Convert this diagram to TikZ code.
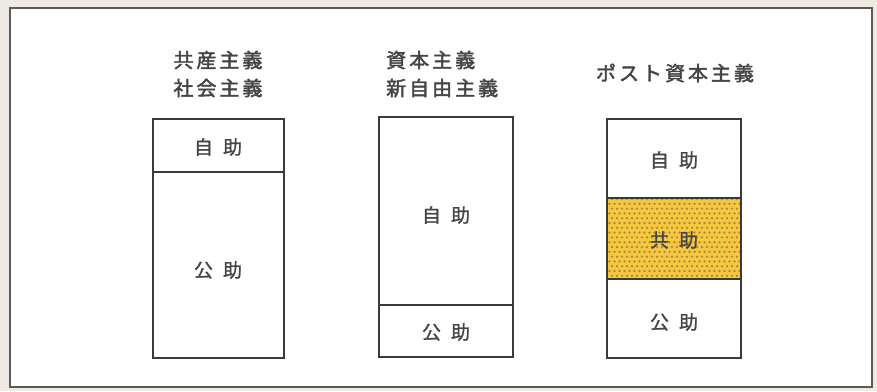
\documentclass[tikz,border=0pt]{standalone}
\usepackage{fontspec}
\newfontfamily\jpm[FakeBold=1.2]{Noto Sans CJK JP}
\newfontfamily\jpb[FakeBold=2]{Noto Sans CJK JP}
\definecolor{bgbeige}{HTML}{EEEAE3}
\definecolor{framec}{HTML}{5A5A5A}
\definecolor{linec}{HTML}{3A3A3A}
\definecolor{txtc}{HTML}{454545}
\definecolor{yel}{HTML}{F5C843}
\definecolor{dotc}{HTML}{B08A2E}
\newcommand\gp{\kern3pt}
\tikzset{
  title/.style={font=\jpb\fontsize{20}{28}\selectfont, text=txtc, inner sep=0pt},
  lab/.style={font=\jpm\fontsize{19}{20}\selectfont, text=txtc, inner sep=0pt},
  boxline/.style={draw=linec, line width=1.8pt},
}
\begin{document}
\begin{tikzpicture}[x=1pt,y=-1pt]
\useasboundingbox (0,0) rectangle (877,391);
\fill[bgbeige] (0,0) rectangle (877,391);
\fill[white] (10,8) rectangle (872,387);
\draw[framec, line width=1.8pt] (10,8) rectangle (872,387);

% Box 1
\node[title] (t1a) at (218,60) {共\gp 産\gp 主\gp 義};
\node[title] (t1b) at (218,88) {社\gp 会\gp 主\gp 義};
\draw[boxline] (153,119) rectangle (284,358);
\draw[boxline] (153,172) -- (284,172);
\node[lab] (b1a) at (218,147) {自\hspace{10pt}助};
\node[lab] (b1b) at (218,270) {公\hspace{10pt}助};

% Box 2
\node[title, anchor=west] (t2a) at (386,60) {資\gp 本\gp 主\gp 義};
\node[title, anchor=west] (t2b) at (386,88) {新\gp 自\gp 由\gp 主\gp 義};
\draw[boxline] (379,117) rectangle (513,357);
\draw[boxline] (379,305) -- (513,305);
\node[lab] (b2a) at (446,215) {自\hspace{10pt}助};
\node[lab] (b2b) at (446,332) {公\hspace{10pt}助};

% Box 3
\node[title] (t3) at (675,73) {ポ\gp ス\gp ト\gp 資\gp 本\gp 主\gp 義};
\fill[yel] (607,198) rectangle (741,279);
\begin{scope}
\clip (607,198) rectangle (741,279);
\foreach \j in {0,...,17}{
  \pgfmathsetmacro\off{mod(\j,2)*2.5}
  \foreach \i in {0,...,27}{
    \fill[dotc] (607+\off+\i*5, 199+\j*4.8) circle (1.3pt);
  }
}
\end{scope}
\draw[boxline] (607,119) rectangle (741,358);
\draw[boxline] (607,198) -- (741,198);
\draw[boxline] (607,279) -- (741,279);
\node[lab] (b3a) at (674,160) {自\hspace{10pt}助};
\node[lab] (b3b) at (674,240) {共\hspace{10pt}助};
\node[lab] (b3c) at (674,322) {公\hspace{10pt}助};
\end{tikzpicture}
\end{document}
